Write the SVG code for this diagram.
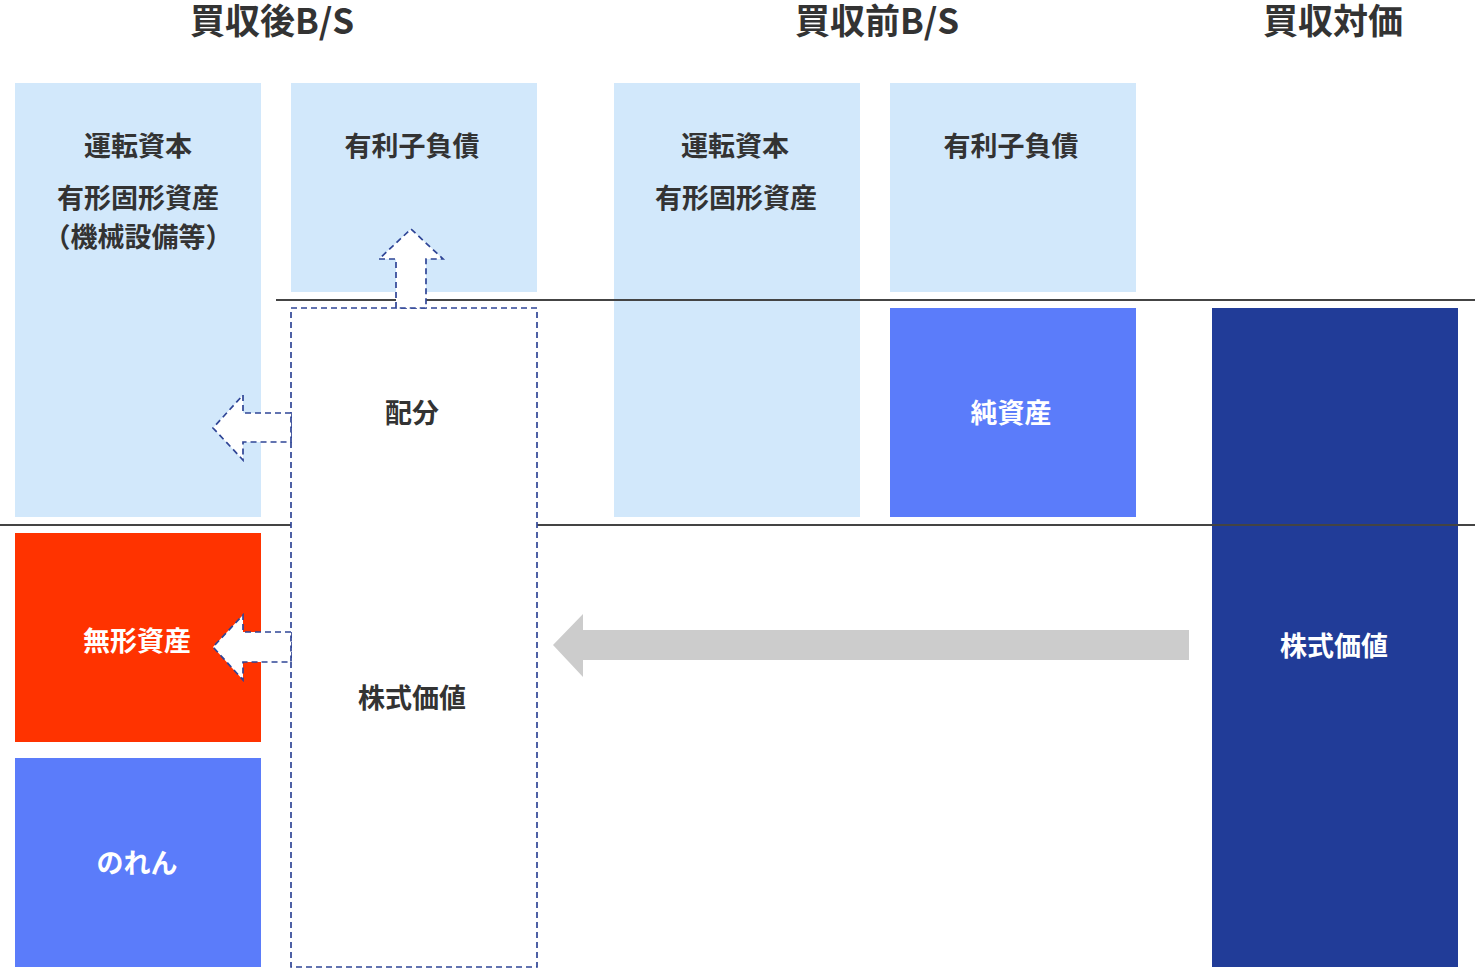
<svg xmlns="http://www.w3.org/2000/svg" width="1475" height="969" viewBox="0 0 1475 969">
<style>
text{font-family:"Noto Sans CJK JP","Noto Sans",sans-serif;font-weight:700;text-anchor:middle;dominant-baseline:central}
.t{font-size:35px;fill:#333}
.l{font-size:27px;fill:#333}
.w{font-size:27px;fill:#fff}
.lb{fill:#D2E8FB}
.dash{fill:#fff;stroke:#2F4596;stroke-width:1.7;stroke-dasharray:6 4}
.sep{stroke:#444;stroke-width:2}
</style>
<rect width="1475" height="969" fill="#fff"/>
<g id="titles">
<text class="t" x="272" y="18.5">買収後B/S</text>
<text class="t" x="877" y="18.5">買収前B/S</text>
<text class="t" x="1333" y="18.5">買収対価</text>
</g>
<g id="after-working-capital">
<rect class="lb" x="15" y="83" width="246" height="434"/>
<text class="l" x="138" y="144">運転資本</text>
<text class="l" x="138" y="196">有形固形資産</text>
<text class="l" x="138" y="235">（機械設備等）</text>
</g>
<g id="after-debt">
<rect class="lb" x="291" y="83" width="246" height="209"/>
<text class="l" x="412" y="144">有利子負債</text>
</g>
<g id="after-intangible">
<rect x="15" y="533" width="246" height="209" fill="#FF3300"/>
<text class="w" x="137" y="639">無形資産</text>
</g>
<g id="after-goodwill">
<rect x="15" y="758" width="246" height="209" fill="#5B7CFA"/>
<text class="w" x="137" y="861">のれん</text>
</g>
<g id="before-working-capital">
<rect class="lb" x="614" y="83" width="246" height="434"/>
<text class="l" x="735" y="144">運転資本</text>
<text class="l" x="736" y="196">有形固形資産</text>
</g>
<g id="before-debt">
<rect class="lb" x="890" y="83" width="246" height="209"/>
<text class="l" x="1011" y="144">有利子負債</text>
</g>
<g id="before-net-assets">
<rect x="890" y="308" width="246" height="209" fill="#5B7CFA"/>
<text class="w" x="1011" y="411">純資産</text>
</g>
<g id="consideration">
<rect x="1212" y="308" width="246" height="659" fill="#213C98"/>
<text class="w" x="1334" y="644">株式価値</text>
</g>
<g id="separators">
<line class="sep" x1="276" y1="300" x2="1475" y2="300"/>
<line class="sep" x1="0" y1="525" x2="1475" y2="525"/>
</g>
<g id="allocation">
<rect class="dash" x="291" y="308" width="246" height="659"/>
<text class="l" x="412" y="411">配分</text>
<text class="l" x="412" y="696">株式価値</text>
</g>
<g id="connectors">
<polygon class="dash" points="396,308 396,259 379,259 411,229 443,259 426,259 426,308"/>
<polygon class="dash" points="291,413 243,413 243,395 213,428 243,460 243,442 291,442"/>
<polygon class="dash" points="291,632 243,632 243,615 213,647 243,680 243,662 291,662"/>
<polygon fill="#CCCCCC" points="1189,630 583,630 583,614 553,645 583,677 583,660 1189,660"/>
</g>
</svg>
